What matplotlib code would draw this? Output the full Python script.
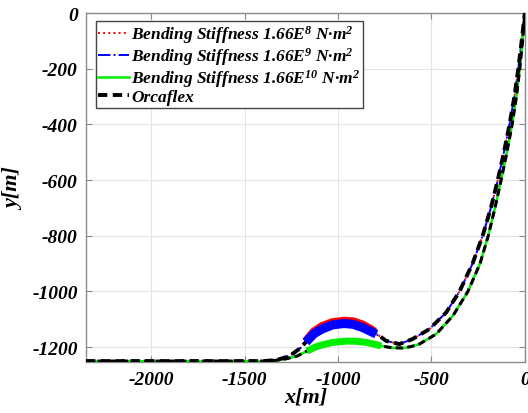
import matplotlib
matplotlib.use("Agg")
import matplotlib.pyplot as plt
import numpy as np

plt.rcParams['font.family'] = ['Liberation Serif', 'DejaVu Serif']
plt.rcParams['font.weight'] = 'bold'
plt.rcParams['font.style'] = 'italic'
plt.rcParams['axes.unicode_minus'] = False
plt.rcParams['mathtext.fontset'] = 'custom'
plt.rcParams['mathtext.rm'] = 'Liberation Serif:bold:italic'
plt.rcParams['mathtext.it'] = 'Liberation Serif:bold:italic'
plt.rcParams['mathtext.bf'] = 'Liberation Serif:bold:italic'

# ---- data ----
red_x = [-2350, -1400, -1330, -1280, -1240, -1200, -1172, -1130, -1086, -1030, -968, -920, -871, -830, -806,
         -744, -672, -602, -511, -421, -350, -280, -226, -182, -145, -112, -82, -56, -35, -17, 0]
red_y = [-1250, -1250, -1246, -1236, -1222, -1202, -1180, -1146, -1126, -1112, -1107, -1109, -1120, -1135, -1146,
         -1177, -1189, -1171, -1135, -1075, -1000, -900, -800, -700, -600, -500, -400, -300, -200, -100, 0]

blue_x = [-2350, -1400, -1330, -1280, -1240, -1200, -1172, -1130, -1086, -1030, -968, -920, -871, -830, -796,
          -744, -672, -602, -511, -421, -350, -280, -226, -182, -145, -112, -82, -56, -35, -17, 0]
blue_y = [-1250, -1250, -1246, -1236, -1222, -1202, -1182, -1152, -1135, -1120, -1115, -1118, -1129, -1142, -1153,
          -1177, -1189, -1171, -1135, -1075, -1000, -900, -800, -700, -600, -500, -400, -300, -200, -100, 0]

green_x = [-2350, -1400, -1330, -1280, -1220, -1167, -1120, -1086, -1030, -952, -900, -850, -800, -769,
           -710, -654, -610, -565, -475, -385, -305, -240, -196, -160, -127, -96, -68, -45, -27, -12, 0]
green_y = [-1250, -1250, -1247, -1242, -1232, -1214, -1199, -1192, -1183, -1178, -1179, -1183, -1190, -1196,
           -1202, -1203, -1198, -1189, -1153, -1087, -1000, -900, -800, -700, -600, -500, -400, -300, -200, -100, 0]

orca_up_x = blue_x
orca_up_y = [-1250, -1250, -1246, -1236, -1222, -1202, -1181, -1150, -1131, -1116, -1111, -1114, -1125, -1139, -1150,
             -1177, -1189, -1171, -1135, -1075, -1000, -900, -800, -700, -600, -500, -400, -300, -200, -100, 0]
orca_lo_x = green_x
orca_lo_y = green_y

# buoyancy section extent for each case
red_buoy = (-1172, -806)
blue_buoy = (-1172, -796)
green_buoy = (-1167, -769)

labels = [r'Bending Stiffness 1.66E$^{8}$ N·m$^{2}$',
          r'Bending Stiffness 1.66E$^{9}$ N·m$^{2}$',
          r'Bending Stiffness 1.66E$^{10}$ N·m$^{2}$',
          'Orcaflex']

xticks = [-2000, -1500, -1000, -500, 0]
yticks = [0, -200, -400, -600, -800, -1000, -1200]

fig = plt.figure(figsize=(5.28, 4.14), dpi=100)
ax = fig.add_axes([0.163, 0.122, 0.831, 0.844])

def seg(xs, ys, rng):
    xs = np.asarray(xs, float); ys = np.asarray(ys, float)
    m = (xs >= rng[0]) & (xs <= rng[1])
    return xs[m], ys[m]

l1, = ax.plot(red_x, red_y, color='red', ls=':', lw=1.4, zorder=3)
l2, = ax.plot(blue_x, blue_y, color='blue', ls='-.', lw=1.4, zorder=3)
l3, = ax.plot(green_x, green_y, color='#00ee00', ls='-', lw=1.8, zorder=3)
dash = (0, (2.4, 1.4))
l4, = ax.plot(orca_up_x, orca_up_y, color='black', ls=dash, lw=2.8, zorder=4)
ax.plot(orca_lo_x, orca_lo_y, color='black', ls=dash, lw=2.2, zorder=4)

sx, sy = seg(red_x, red_y, red_buoy)
ax.plot(sx, sy, color='red', lw=6.5, solid_capstyle='butt', zorder=5)
sx, sy = seg(blue_x, blue_y, blue_buoy)
ax.plot(sx, sy, color='blue', lw=6.5, solid_capstyle='butt', zorder=6)
sx, sy = seg(green_x, green_y, green_buoy)
ax.plot(sx, sy, color='#00ee00', lw=5, solid_capstyle='butt', zorder=5)

ax.set_xlim(-2350, 0)
ax.set_ylim(-1255, 0)
ax.set_xticks(xticks)
ax.set_yticks(yticks)
ax.tick_params(direction='in', length=4, color='#888888', top=True, right=True,
               labelsize=14, pad=6)
for t in ax.get_xticklabels() + ax.get_yticklabels():
    t.set_fontweight('bold'); t.set_fontstyle('italic')
ax.grid(True, color='#e4e4e4', lw=0.8)
ax.set_axisbelow(True)
for s in ax.spines.values():
    s.set_color('#8c8c8c')
    s.set_linewidth(1.0)

ax.set_xlabel('x[m]', fontsize=16, fontweight='bold', fontstyle='italic', labelpad=-1)
ax.set_ylabel('y[m]', fontsize=16, fontweight='bold', fontstyle='italic', labelpad=6)

leg = ax.legend([l1, l2, l3, l4], labels, loc='upper left', bbox_to_anchor=(0.022, 0.978),
                prop={'family': 'Liberation Serif', 'weight': 'bold', 'style': 'italic', 'size': 12.5},
                handlelength=1.75, handletextpad=0.15, labelspacing=0.0, borderpad=0.15,
                fancybox=False, framealpha=1, edgecolor='#444444', borderaxespad=0)
leg.get_frame().set_linewidth(1.0)

fig.savefig('out.png', dpi=100)
